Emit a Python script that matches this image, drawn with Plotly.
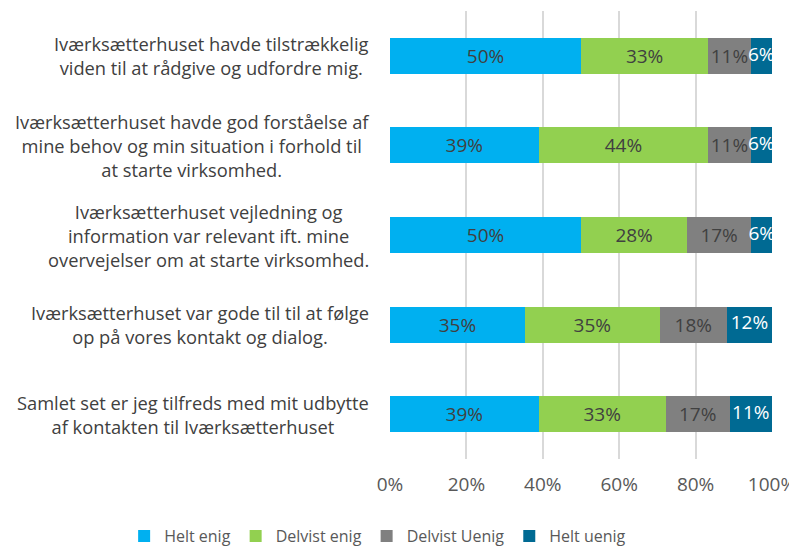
import plotly.graph_objects as go

categories = [
    "Iværksætterhuset havde tilstrækkelig<br>viden til at rådgive og udfordre mig.",
    "Iværksætterhuset havde god forståelse af<br>mine behov og min situation i forhold til<br>at starte virksomhed.",
    "Iværksætterhuset vejledning og<br>information var relevant ift. mine<br>overvejelser om at starte virksomhed.",
    "Iværksætterhuset var gode til til at følge<br>op på vores kontakt og dialog.",
    "Samlet set er jeg tilfreds med mit udbytte<br>af kontakten til Iværksætterhuset",
]
cat_ids = ["c1", "c2", "c3", "c4", "c5"]

series_names = ["Helt enig", "Delvist enig", "Delvist Uenig", "Helt uenig"]
helt_enig = [50.0, 38.9, 50.0, 35.3, 38.9]
delvist_enig = [33.3, 44.4, 27.8, 35.3, 33.3]
delvist_uenig = [11.1, 11.1, 16.7, 17.6, 16.7]
helt_uenig = [5.6, 5.6, 5.6, 11.8, 11.1]

tick_vals = [0, 20, 40, 60, 80, 100]
tick_text = ["0%", "20%", "40%", "60%", "80%", "100%"]

colors = ["#00B0F0", "#92D050", "#808080", "#006A93"]
text_colors = ["#404040", "#404040", "#404040", "#FFFFFF"]
FONT = "Open Sans"
FS = 19

all_series = [helt_enig, delvist_enig, delvist_uenig, helt_uenig]

fig = go.Figure()
base = [0.0] * len(cat_ids)
for i, (name, vals, col, tcol) in enumerate(zip(series_names, all_series, colors, text_colors)):
    labels = [f"{round(v):d}%" for v in vals]
    last = i == len(all_series) - 1
    fig.add_trace(go.Bar(
        y=cat_ids, x=vals, name=name, orientation="h",
        marker=dict(color=col, line=dict(width=0)),
        text=None if last else labels,
        textposition="inside", insidetextanchor="middle", textangle=0,
        constraintext="none",
        textfont=dict(family=FONT, size=FS, color=tcol),
        cliponaxis=False,
    ))
    if last:
        mids = [b + v / 2 for b, v in zip(base, vals)]
        fig.add_trace(go.Scatter(
            y=cat_ids, x=mids, mode="text", text=labels, showlegend=False,
            textposition="middle center", hoverinfo="skip", cliponaxis=False,
            textfont=dict(family=FONT, size=FS, color=tcol),
        ))
    base = [b + v for b, v in zip(base, vals)]

for cid, label in zip(cat_ids, categories):
    fig.add_annotation(
        x=0, xref="paper", y=cid, yref="y", text=label, showarrow=False,
        xanchor="right", yanchor="middle", align="center", xshift=-19,
        font=dict(family=FONT, size=18.3, color="#404040"),
    )

# page has an 8px body margin, so the figure is drawn 8px smaller and offset
fig.update_layout(
    barmode="stack", bargap=0.6,
    width=789, height=539,
    margin=dict(l=382, r=25, t=3, b=88, autoexpand=False),
    paper_bgcolor="white", plot_bgcolor="white",
    font=dict(family=FONT, size=FS, color="#595959"),
    showlegend=True,
    legend=dict(orientation="h", x=-0.696, xref="paper", xanchor="left",
                y=-0.134, yref="paper", yanchor="top",
                font=dict(family=FONT, size=16, color="#595959"),
                traceorder="normal", itemwidth=30, tracegroupgap=0),
    xaxis=dict(range=[0, 100], tickvals=tick_vals, ticktext=tick_text,
               showgrid=True, gridcolor="#D9D9D9", gridwidth=2,
               zeroline=False, showline=False, ticks="", ticklabelstandoff=12,
               tickfont=dict(family=FONT, size=FS, color="#595959")),
    yaxis=dict(categoryorder="array", categoryarray=cat_ids, autorange="reversed",
               showticklabels=False, showgrid=False, zeroline=False, showline=False, ticks=""),
)

fig.write_html("out.html")
